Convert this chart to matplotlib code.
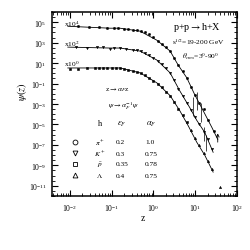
import numpy as np
import matplotlib
matplotlib.use("Agg")
import matplotlib.pyplot as plt
from matplotlib.ticker import LogLocator, FixedLocator, NullFormatter

plt.rcParams['font.family'] = ['Liberation Serif', 'DejaVu Serif']
plt.rcParams['mathtext.fontset'] = 'stix'

# curves (log10 z, log10 psi), already multiplied by 10^4, 10^2, 10^0
curve_top_lz = [-2.05, -1.04, -0.80, -0.32, 0.08, 0.40, 0.59, 0.80, 0.99, 1.19, 1.40, 1.54]
curve_top_lp = [4.61, 4.42, 4.42, 4.13, 3.25, 2.18, 0.83, -0.44, -2.09, -3.64, -5.29, -6.46]
curve_mid_lz = [-2.05, -1.04, -0.80, -0.32, 0.08, 0.40, 0.63, 0.87, 1.04, 1.23, 1.43]
curve_mid_lp = [2.57, 2.48, 2.48, 2.18, 1.31, 0.05, -1.70, -3.35, -4.61, -5.78, -7.72]
curve_bot_lz = [-2.05, -1.04, -0.80, -0.32, 0.08, 0.40, 0.63, 0.83, 1.04, 1.23, 1.43]
curve_bot_lp = [0.53, 0.53, 0.53, 0.05, -0.92, -2.18, -3.64, -5.10, -6.75, -8.01, -9.66]

# data points
pts_top_lz = [-1.8, -1.55, -1.3, -1.1, -0.95, -0.85, -0.7, -0.6, -0.5, -0.4, -0.3, -0.2, -0.1,
              0.0, 0.1, 0.2, 0.3, 0.4, 0.5, 0.6, 0.7, 0.8, 0.9, 1.0, 1.1, 1.2, 1.3, 1.45]
pts_top_lp = [4.6, 4.55, 4.5, 4.45, 4.42, 4.42, 4.38, 4.33, 4.27, 4.2, 4.12, 4.0, 3.85,
              3.55, 3.2, 2.9, 2.55, 2.15, 1.55, 0.8, 0.2, -0.45, -1.3, -2.1, -2.9, -3.5, -4.6, -5.6]
pts_mid_lz = [-1.85, -1.6, -1.35, -1.2, -1.05, -0.95, -0.8, -0.65, -0.5, -0.4, -0.3, -0.2, -0.1,
              0.0, 0.1, 0.2, 0.3, 0.4, 0.5, 0.6, 0.7, 0.8, 0.9, 1.0, 1.1, 1.2, 1.3, 1.4]
pts_mid_lp = [2.55, 2.5, 2.55, 2.6, 2.35, 2.45, 2.45, 2.4, 2.3, 2.25, 2.15, 2.0, 1.8,
              1.55, 1.25, 0.95, 0.55, 0.05, -0.65, -1.5, -2.2, -2.9, -3.6, -4.3, -5.0, -5.7, -6.4, -7.4]
pts_bot_lz = [-2.0, -1.8, -1.6, -1.4, -1.3, -1.2, -1.1, -1.0, -0.9, -0.8, -0.7, -0.6, -0.5, -0.4,
              -0.3, -0.2, -0.1, 0.0, 0.1, 0.2, 0.3, 0.4, 0.5, 0.6, 0.7, 0.8]
pts_bot_lp = [0.45, 0.45, 0.5, 0.55, 0.5, 0.52, 0.5, 0.5, 0.5, 0.48, 0.42, 0.35, 0.28, 0.15,
              0.0, -0.2, -0.45, -0.7, -1.0, -1.35, -1.8, -2.2, -2.8, -3.45, -4.1, -4.8]
pts_lam_lz = [0.9, 1.0, 1.1, 1.2, 1.3, 1.4, 1.59]
pts_lam_lp = [-5.5, -6.3, -7.0, -7.8, -8.6, -9.4, -11.1]

# error bars (log10 z, low, high)
err_lz = [1.05, 1.15, 0.95, 1.2, 1.25]
err_lo = [-3.6, -4.8, -4.2, -6.6, -7.6]
err_hi = [-1.8, -2.9, -2.3, -5.2, -6.0]
# upper-limit arrow
arrow_lz = 1.54
arrow_lo, arrow_hi = -7.0, -5.6

# legend table
hadrons = [r'$\pi^+$', r'$K^+$', r'$\bar{p}$', r'$\Lambda$']
eps_f = ['0.2', '0.3', '0.35', '0.4']
alpha_f = ['1.0', '0.75', '0.78', '0.75']
markers = ['o', 'v', 's', '^']

fig = plt.figure(figsize=(2.51, 2.51), dpi=100)
ax = fig.add_axes([0.207, 0.215, 0.737, 0.733])

for lz, lp in [(curve_top_lz, curve_top_lp), (curve_mid_lz, curve_mid_lp), (curve_bot_lz, curve_bot_lp)]:
    ax.plot(10 ** np.array(lz), 10 ** np.array(lp), color='black', lw=0.6)

for lz, lp, m in [(pts_top_lz, pts_top_lp, 'o'), (pts_mid_lz, pts_mid_lp, 'v'),
                  (pts_bot_lz, pts_bot_lp, 's'), (pts_lam_lz, pts_lam_lp, '^')]:
    ax.plot(10 ** np.array(lz), 10 ** np.array(lp), ls='none', marker=m, ms=1.6,
            mfc='black', mec='black', mew=0.4)

ax.vlines(10 ** np.array(err_lz), 10 ** np.array(err_lo), 10 ** np.array(err_hi), color='black', lw=0.5)
ax.annotate('', xy=(10 ** arrow_lz, 10 ** arrow_hi), xytext=(10 ** arrow_lz, 10 ** arrow_lo),
            arrowprops=dict(arrowstyle='->', lw=0.6, color='black', mutation_scale=5))

ax.set_xscale('log')
ax.set_yscale('log')
ax.set_xlim(10 ** -2.43, 1e2)
ax.set_ylim(1e-12, 1e6)

ax.xaxis.set_major_locator(FixedLocator([1e-2, 1e-1, 1e0, 1e1, 1e2]))
ax.xaxis.set_minor_locator(LogLocator(base=10, subs=np.arange(2, 10), numticks=20))
ax.yaxis.set_major_locator(FixedLocator([10.0 ** k for k in range(-11, 6, 2)]))
ax.yaxis.set_minor_locator(FixedLocator([10.0 ** (k / 2) for k in range(-24, 13)]))
ax.xaxis.set_minor_formatter(NullFormatter())
ax.yaxis.set_minor_formatter(NullFormatter())
ax.tick_params(which='both', direction='in', top=True, right=True, labelsize=5.5, pad=4)
ax.tick_params(which='major', length=4, width=0.8)
ax.tick_params(which='minor', length=2, width=0.6)
for s in ax.spines.values():
    s.set_linewidth(1.1)

fig.text(22 / 251, 1 - 92 / 251, r'$\psi(z)$', rotation=90, fontsize=7.5, ha='center', va='center')
fig.text(143 / 251, 1 - 219 / 251, 'z', fontsize=7, ha='center', va='center')

fs = 5.3
for py, k in [(24, 4), (44, 2), (64, 0)]:
    fig.text(64 / 251, 1 - py / 251, 'x10$^{%d}$' % k, fontsize=fs, ha='left', va='center')

fig.text(197 / 251, 1 - 27 / 251, r'p+p$\rightarrow$h+X', fontsize=7.3, ha='center', va='center')
fig.text(198 / 251, 1 - 42 / 251, r's$^{1/2}$=19-200 GeV', fontsize=fs, ha='center', va='center')
fig.text(201 / 251, 1 - 57 / 251, r'$\theta_{cms}$=3$^0$-90$^0$', fontsize=fs, ha='center', va='center')

fig.text(105 / 251, 1 - 90 / 251, r'z$\rightarrow\alpha_F$z', fontsize=fs, ha='left', va='center')
fig.text(108 / 251, 1 - 106 / 251, r'$\psi\rightarrow\alpha_F^{-1}\psi$', fontsize=fs, ha='left', va='center')

fig.text(100 / 251, 1 - 124 / 251, 'h', fontsize=6, ha='center', va='center')
fig.text(122 / 251, 1 - 124 / 251, r'$\varepsilon_F$', fontsize=6, ha='center', va='center')
fig.text(151 / 251, 1 - 124 / 251, r'$\alpha_F$', fontsize=6, ha='center', va='center')
for i, py in enumerate([143, 154, 165, 176]):
    fy = 1 - py / 251
    fig.lines.append(plt.Line2D([75 / 251], [fy], transform=fig.transFigure, marker=markers[i],
                                ms=3.5, mfc='white', mec='black', mew=0.6, ls='none'))
    fig.text(100 / 251, fy, hadrons[i], fontsize=fs, ha='center', va='center')
    fig.text(116 / 251, fy, eps_f[i], fontsize=fs, ha='left', va='center')
    fig.text(145 / 251, fy, alpha_f[i], fontsize=fs, ha='left', va='center')

fig.savefig('out.png', dpi=100)
